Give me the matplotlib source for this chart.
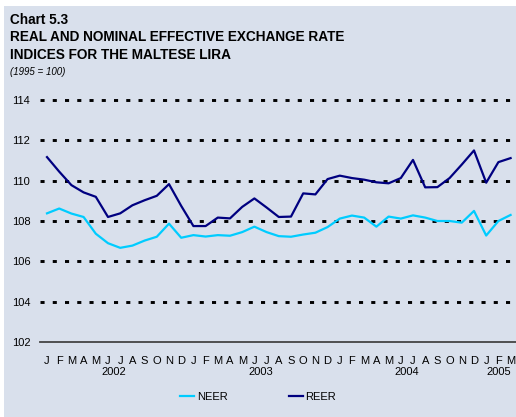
import matplotlib.pyplot as plt
import matplotlib.transforms as mtransforms

plt.rcParams['font.family'] = ['Liberation Sans', 'DejaVu Sans']

# monthly, Jan 2002 - Mar 2005
months = list("JFMAMJJASOND") * 3 + list("JFM")
years = ["2002", "2003", "2004", "2005"]
year_mid = [5.5, 17.5, 29.5, 37.0]

neer = [108.38, 108.62, 108.37, 108.20, 107.37, 106.90, 106.67, 106.78, 107.03, 107.22,
        107.87, 107.17, 107.30, 107.23, 107.30, 107.27, 107.45, 107.72, 107.45, 107.25,
        107.22, 107.33, 107.42, 107.70, 108.12, 108.27, 108.17, 107.72, 108.22, 108.12,
        108.28, 108.17, 108.00, 108.00, 107.92, 108.50, 107.28, 108.00, 108.30]
reer = [111.17, 110.45, 109.78, 109.42, 109.20, 108.20, 108.38, 108.78, 109.03, 109.25,
        109.83, 108.75, 107.75, 107.75, 108.17, 108.13, 108.70, 109.12, 108.67, 108.20,
        108.22, 109.37, 109.32, 110.08, 110.25, 110.13, 110.05, 109.92, 109.87, 110.13,
        111.03, 109.67, 109.68, 110.13, 110.80, 111.50, 109.90, 110.92, 111.12]
yticks = [102, 104, 106, 108, 110, 112, 114]

bg = '#d9e0ec'
W, H = 516, 417
fig = plt.figure(figsize=(W / 100, H / 100), dpi=100)
fig.patch.set_facecolor('white')
fig.patches.append(plt.Rectangle((4 / W, 0), 1, 1 - 6 / H, transform=fig.transFigure,
                                 facecolor=bg, edgecolor='none', zorder=-1))

ax = fig.add_axes([40 / W, 75 / H, 474 / W, 246 / H])
ax.set_facecolor('none')
x = list(range(len(months)))

for yv in yticks[1:]:
    ax.axhline(yv, color='black', lw=2.1, dashes=(1.4, 2.8), clip_on=False, zorder=1)
ax.plot([-0.574, 38.45], [102, 102], color='#444444', lw=1.3, clip_on=False, zorder=2)

ax.plot(x, neer, color='#00ccff', lw=1.6, label='NEER', zorder=3)
ax.plot(x, reer, color='#000080', lw=1.6, label='REER', zorder=3)

ax.set_xlim(-0.574, 38.28)
ax.set_ylim(102, 114.2)
ax.set_yticks(yticks)
ax.set_yticklabels([str(v) for v in yticks], fontsize=8)
ax.set_xticks(x)
ax.set_xticklabels(months, fontsize=8)
ax.tick_params(axis='both', length=0)
ax.tick_params(axis='x', pad=10)
ax.tick_params(axis='y', pad=7)
for s in ax.spines.values():
    s.set_visible(False)

trans = mtransforms.blended_transform_factory(ax.transData, fig.transFigure)
for yr, xm in zip(years, year_mid):
    ax.text(xm, 1 - 372 / H, yr, transform=trans, ha='center', va='center', fontsize=8)

fig.text(10 / W, 1 - 20 / H, 'Chart 5.3', fontsize=9.8, fontweight='bold', va='center')
fig.text(10 / W, 1 - 37 / H, 'REAL AND NOMINAL EFFECTIVE EXCHANGE RATE', fontsize=9.8,
         fontweight='bold', va='center')
fig.text(10 / W, 1 - 55 / H, 'INDICES FOR THE MALTESE LIRA', fontsize=9.8,
         fontweight='bold', va='center')
fig.text(10 / W, 1 - 72 / H, '(1995 = 100)', fontsize=7, style='italic', va='center')

ax.legend(loc='center', bbox_to_anchor=(0.5, 1 - 397 / H), bbox_transform=fig.transFigure,
          ncol=2, frameon=False, fontsize=8, handlelength=1.3, handletextpad=0.2,
          columnspacing=5.5)

fig.savefig('out.png', dpi=100, facecolor=fig.get_facecolor())
